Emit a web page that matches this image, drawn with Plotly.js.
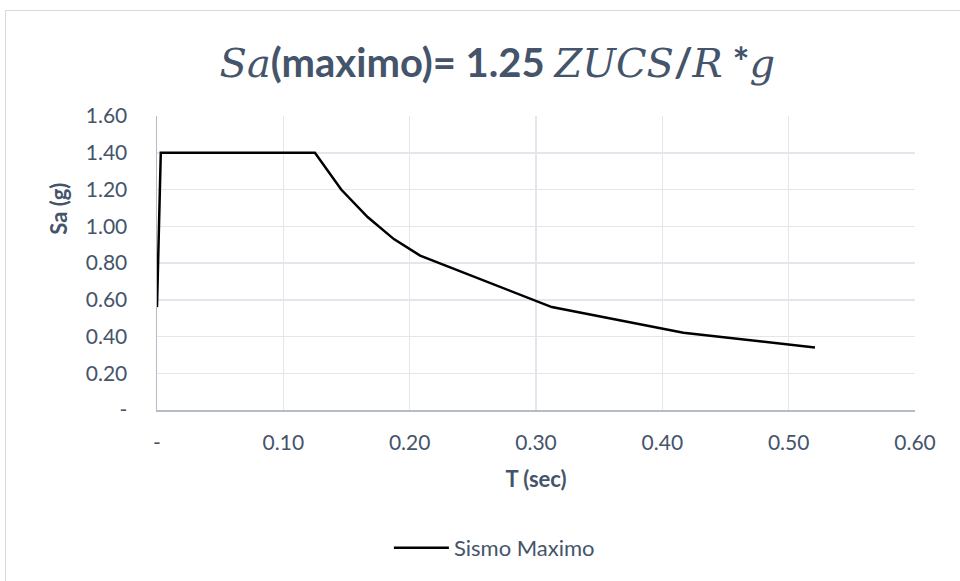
<!DOCTYPE html>
<html>
<head>
<meta charset="utf-8">
<script src="https://cdn.plot.ly/plotly-3.0.1.min.js"></script>
<style>
html,body{margin:0;padding:0;background:#fff;}
#wrap{position:relative;width:960px;height:581px;}
#chart{width:960px;height:581px;}
#frame{position:absolute;left:5px;top:10px;width:960px;height:600px;border-left:1px solid #D9D9D9;border-top:1px solid #D9D9D9;pointer-events:none;}
</style>
</head>
<body>
<div id="wrap"><div id="chart"></div><div id="frame"></div></div>
<script>
// Data
const periodT = [0.000, 0.003, 0.125, 0.1458, 0.1667, 0.1875, 0.2083, 0.3125, 0.4167, 0.5208];
const saMax   = [0.56, 1.40, 1.40, 1.20, 1.05, 0.93, 0.84, 0.56, 0.42, 0.34];
const seriesName = 'Sismo Maximo';
const xTickVals = [0, 0.1, 0.2, 0.3, 0.4, 0.5, 0.6];
const xTickText = ['-', '0.10', '0.20', '0.30', '0.40', '0.50', '0.60'];
const yTickVals = [0, 0.2, 0.4, 0.6, 0.8, 1.0, 1.2, 1.4, 1.6];
const yTickText = ['-', '0.20', '0.40', '0.60', '0.80', '1.00', '1.20', '1.40', '1.60'];
const xTitle = 'T (sec)';
const yTitle = 'Sa (g)';

const textColor = '#44546A';
const baseFont = 'Lato, "Open Sans", sans-serif';
const mathFont = '"DejaVu Serif", "Liberation Serif", serif';
const m = s => '<span style="font-family:' + mathFont.replace(/"/g, "'") + ';font-style:italic;font-weight:normal">' + s + '</span>';

const trace = {
  x: periodT, y: saMax, type: 'scatter', mode: 'lines', name: seriesName,
  line: {color: '#000000', width: 2.5}
};

const layout = {
  width: 960, height: 581,
  margin: {l: 157, r: 45, t: 116, b: 171},
  paper_bgcolor: '#ffffff', plot_bgcolor: '#ffffff',
  font: {family: baseFont, color: textColor, size: 21},
  title: {
    text: m('Sa') + '<b>(maximo)= 1.25 </b>' + m('ZUCS') + '<b>/</b>' + m('R') + '<b> *</b>' + m('g'),
    font: {family: baseFont, size: 40, color: textColor},
    xref: 'container', x: 0.518, xanchor: 'center',
    yref: 'container', y: 0.891, yanchor: 'middle'
  },
  xaxis: {
    range: [0, 0.6], tickvals: xTickVals, ticktext: xTickText,
    showgrid: true, gridcolor: '#E3E6EC', gridwidth: 1.5,
    showline: true, linecolor: '#B4BCC8', linewidth: 1.5,
    zeroline: false, ticks: 'outside', ticklen: 13, tickcolor: 'rgba(0,0,0,0)',
    tickfont: {size: 21, color: textColor},
    title: {text: '<b>' + xTitle + '</b>', font: {size: 22, color: textColor}, standoff: 19}
  },
  yaxis: {
    range: [0, 1.6], tickvals: yTickVals, ticktext: yTickText,
    showgrid: true, gridcolor: '#E3E6EC', gridwidth: 1.5,
    showline: true, linecolor: '#B4BCC8', linewidth: 1.5,
    zeroline: false, ticks: 'outside', ticklen: 24, tickcolor: 'rgba(0,0,0,0)',
    tickfont: {size: 21, color: textColor}
  },
  annotations: [{
    text: '<b>' + yTitle + '</b>', textangle: -90, showarrow: false,
    xref: 'paper', yref: 'paper', x: -0.13, y: 0.686,
    xanchor: 'center', yanchor: 'middle',
    font: {size: 22, color: textColor, family: baseFont}
  }],
  showlegend: true,
  legend: {
    orientation: 'h', xref: 'container', yref: 'container',
    x: 0.515, xanchor: 'center', y: 0.057, yanchor: 'middle',
    itemwidth: 55,
    font: {size: 22, color: textColor}, bgcolor: 'rgba(0,0,0,0)'
  }
};

Plotly.newPlot('chart', [trace], layout, {displayModeBar: false, staticPlot: true});
</script>
</body>
</html>
